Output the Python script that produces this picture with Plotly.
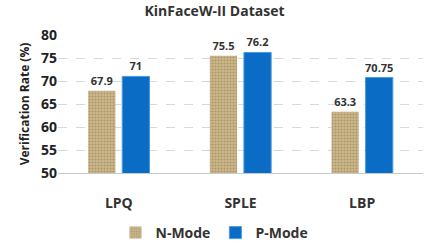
import plotly.graph_objects as go

categories = ["LPQ", "SPLE", "LBP"]
n_mode = [67.9, 75.5, 63.3]
p_mode = [71, 76.2, 70.75]
n_labels = ["67.9", "75.5", "63.3"]
p_labels = ["71", "76.2", "70.75"]

font = "'Open Sans', sans-serif"

fig = go.Figure()
fig.add_trace(go.Bar(
    x=categories, y=n_mode, name="<b>N-Mode</b>",
    text=n_labels, texttemplate="<b>%{text}</b>", textposition="outside",
    textfont=dict(family=font, size=11, color="#333333"),
    constraintext="none",
    marker=dict(color="#c9b285",
                pattern=dict(shape=".", bgcolor="#cdb88c", fgcolor="#8c744a",
                             size=3, solidity=0.4, fillmode="overlay"),
                line=dict(width=0)),
    cliponaxis=False,
))
fig.add_trace(go.Bar(
    x=categories, y=p_mode, name="<b>P-Mode</b>",
    text=p_labels, texttemplate="<b>%{text}</b>", textposition="outside",
    textfont=dict(family=font, size=11, color="#333333"),
    constraintext="none",
    marker=dict(color="#0a6cc4", line=dict(color="#4a9ae0", width=1)),
    cliponaxis=False,
))

fig.update_layout(
    width=429, height=244,
    margin=dict(l=58, r=6, t=35, b=71, autoexpand=False),
    paper_bgcolor="white", plot_bgcolor="white",
    barmode="group", bargap=0.44, bargroupgap=0.2,
    title=dict(text="<b>KinFaceW-II Dataset</b>", x=0.5, xanchor="center",
               y=0.975, yanchor="top",
               font=dict(family=font, size=14, color="#333333")),
    font=dict(family=font, color="#333333"),
    showlegend=True,
    legend=dict(orientation="h", x=0.5, xref="container", xanchor="center",
                y=0.045, yref="container", yanchor="middle",
                font=dict(family=font, size=14, color="#333333"),
                itemwidth=30, traceorder="normal"),
)
fig.update_xaxes(
    showline=True, linecolor="#c8c8c8", linewidth=1,
    tickfont=dict(family=font, size=14, color="#333333"),
    ticks="", tickprefix="<b>", ticksuffix="</b>",
    ticklabelstandoff=17,
)
fig.update_yaxes(
    range=[50, 80], dtick=5,
    showgrid=True, gridcolor="#d9d9d9", griddash="dash", gridwidth=1,
    zeroline=False,
    tickfont=dict(family=font, size=14, color="#222222"),
    tickprefix="<b>", ticksuffix="</b>",
    title=dict(text="<b>Verification Rate (%)</b>", standoff=8,
               font=dict(family=font, size=12, color="#222222")),
)

fig.write_html("out.html")
